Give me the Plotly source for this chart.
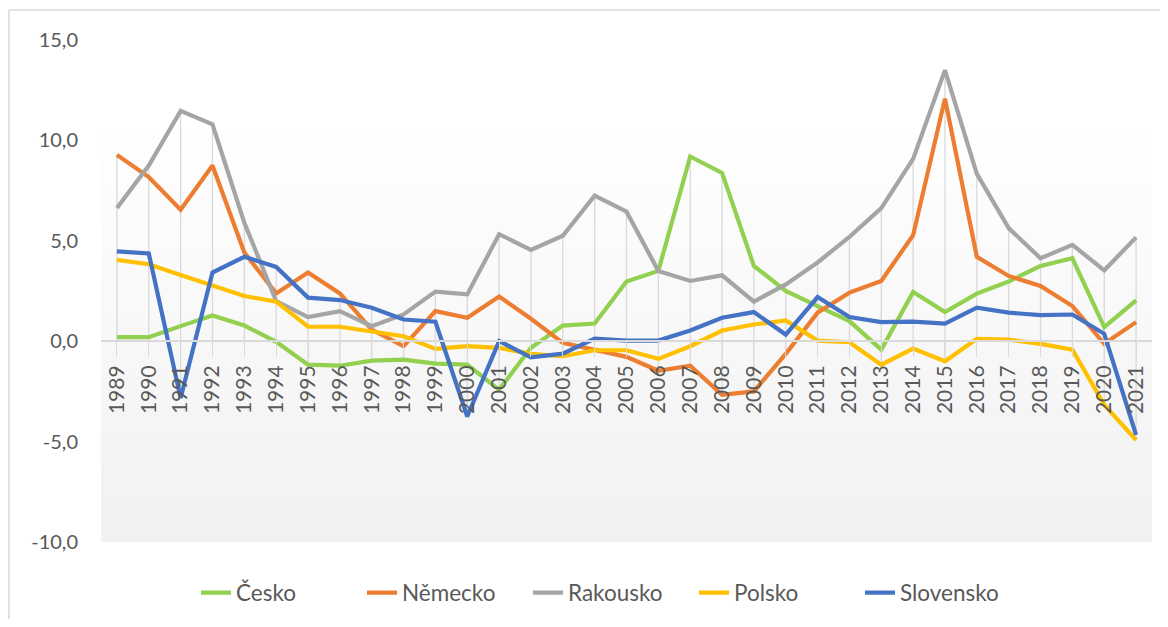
import plotly.graph_objects as go

years = [str(y) for y in range(1989, 2022)]

cesko = [0.2, 0.2, 0.75, 1.28, 0.78, -0.03, -1.17, -1.22, -0.97, -0.92, -1.12, -1.17, -2.42, -0.33,
         0.78, 0.88, 2.97, 3.5, 9.2, 8.38, 3.75, 2.5, 1.75, 1.0, -0.42, 2.45, 1.45, 2.37, 2.97,
         3.75, 4.13, 0.7, 2.03]
nemecko = [9.28, 8.17, 6.55, 8.75, 4.42, 2.38, 3.42, 2.38, 0.58, -0.25, 1.5, 1.17, 2.22, 1.12,
           -0.08, -0.42, -0.78, -1.47, -1.22, -2.67, -2.5, -0.63, 1.42, 2.42, 3.0, 5.28, 12.08,
           4.2, 3.25, 2.75, 1.75, -0.13, 0.95]
rakousko = [6.63, 8.75, 11.47, 10.8, 5.9, 2.0, 1.2, 1.5, 0.75, 1.33, 2.47, 2.33, 5.33, 4.55,
            5.25, 7.25, 6.45, 3.5, 3.0, 3.28, 1.97, 2.83, 3.92, 5.2, 6.63, 9.08, 13.5, 8.33,
            5.63, 4.13, 4.8, 3.53, 5.17]
polsko = [4.05, 3.83, 3.3, 2.8, 2.25, 1.97, 0.72, 0.72, 0.5, 0.25, -0.38, -0.25, -0.33, -0.63,
          -0.75, -0.45, -0.45, -0.88, -0.25, 0.53, 0.83, 1.03, 0.03, -0.05, -1.17, -0.37, -1.0,
          0.12, 0.08, -0.13, -0.42, -3.17, -4.92]
slovensko = [4.47, 4.37, -2.83, 3.42, 4.2, 3.7, 2.17, 2.05, 1.67, 1.08, 0.97, -3.75, 0.0, -0.8,
             -0.62, 0.13, 0.03, 0.03, 0.53, 1.17, 1.45, 0.33, 2.2, 1.2, 0.95, 0.97, 0.88, 1.67,
             1.42, 1.3, 1.33, 0.37, -4.67]

series_names = ["Česko", "Německo", "Rakousko", "Polsko", "Slovensko"]
series_values = [cesko, nemecko, rakousko, polsko, slovensko]
series_colors = ["#92D050", "#ED7D31", "#A5A5A5", "#FFC000", "#4472C4"]

Y_MIN, Y_MAX = -10, 15
y_ticks = [-10, -5, 0, 5, 10, 15]
y_ticktext = [f"{v:.1f}".replace(".", ",") for v in y_ticks]
idx = list(range(len(years)))

# page is rendered with an 8px body margin -> figure coords = page coords - 8
OFF = 8
W, H = 1152, 611
ML, MT = 101 - OFF, 40 - OFF
MR = W - (1152 - OFF)
MB = H - (542 - OFF)
pw, ph = W - ML - MR, H - MT - MB

FONT = "Lato"
TXT = "#595959"

fig = go.Figure()

# drop lines
dx, dy = [], []
for i in idx:
    vals = [s[i] for s in series_values]
    dx += [i, i, None]
    dy += [max(0, max(vals)), min(0, min(vals)), None]
fig.add_trace(go.Scatter(x=dx, y=dy, mode="lines",
                         line=dict(color="#d9d9d9", width=1.3),
                         hoverinfo="skip", showlegend=False))

for name, vals, col in zip(series_names, series_values, series_colors):
    fig.add_trace(go.Scatter(x=idx, y=vals, mode="lines", name=name,
                             line=dict(color=col, width=4.2)))

# gradient plot-area background (white at top -> light gray at bottom)
NB = 60
top_c, bot_c = 255, 241
for k in range(NB):
    f0, f1 = k / NB, (k + 1) / NB
    t = (f0 + f1) / 2
    c = round(bot_c + (top_c - bot_c) * min(1.0, t / 0.85))
    fig.add_shape(type="rect", xref="paper", yref="paper", layer="below",
                  x0=0, x1=1, y0=f0, y1=f1 + 0.002,
                  fillcolor=f"rgb({c},{c},{c})", line=dict(width=0))

# chart border (left and top), given in page pixels
def px2x(px):
    return (px - OFF - ML) / pw

def py2y(py):
    return (H - MB - (py - OFF)) / ph

fig.add_shape(type="line", xref="paper", yref="paper",
              x0=px2x(9), x1=px2x(9), y0=py2y(10), y1=py2y(660),
              line=dict(color="#d9d9d9", width=1.5))
fig.add_shape(type="line", xref="paper", yref="paper",
              x0=px2x(9), x1=px2x(1200), y0=py2y(10), y1=py2y(10),
              line=dict(color="#d9d9d9", width=1.5))

fig.update_layout(
    width=W, height=H,
    margin=dict(l=ML, r=MR, t=MT, b=MB, autoexpand=False),
    paper_bgcolor="white", plot_bgcolor="rgba(0,0,0,0)",
    font=dict(family=FONT, size=21, color=TXT),
    showlegend=True,
    legend=dict(orientation="h", x=px2x(196), xanchor="left",
                y=py2y(593), yanchor="middle",
                font=dict(family=FONT, size=22.5, color=TXT),
                entrywidth=121, entrywidthmode="pixels",
                bgcolor="rgba(0,0,0,0)"),
    xaxis=dict(range=[-0.5, len(years) - 0.5], tickvals=idx, ticktext=years,
               tickangle=-90, showgrid=False, zeroline=False,
               anchor="free", position=(0 - Y_MIN) / (Y_MAX - Y_MIN),
               showline=True, linecolor="#d9d9d9", linewidth=1.5,
               ticks="outside", ticklen=15, tickcolor="#d9d9d9", tickwidth=1.3,
               tickfont=dict(family=FONT, size=21, color=TXT)),
    yaxis=dict(range=[Y_MIN, Y_MAX], tickvals=y_ticks, ticktext=y_ticktext,
               showgrid=False, zeroline=False, showline=False,
               ticklabelstandoff=22,
               tickfont=dict(family=FONT, size=20, color=TXT)),
)

fig.write_html("out.html")
